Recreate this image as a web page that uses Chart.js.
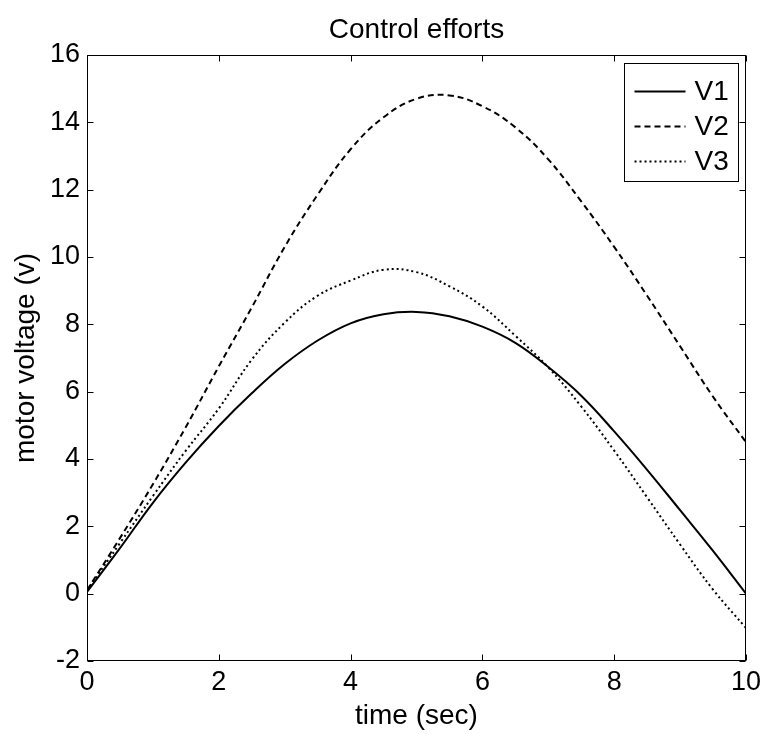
<!DOCTYPE html>
<html>
<head>
<meta charset="utf-8">
<script src="https://cdn.jsdelivr.net/npm/chart.js@4"></script>
<style>
    body { margin: 0; background: #fff; }
    #wrap { width: 766px; height: 734px; position: relative; }
</style>
</head>
<body>
<div id="wrap"><canvas id="effort"></canvas></div>
<script>
// sample times (sec) and motor voltages (v)
const timeValues = [0, 0.5, 1, 1.5, 2, 2.5, 3, 3.5, 4, 4.5, 5, 5.5, 6, 6.5, 7, 7.5, 8, 8.5, 9, 9.5, 10];
const v1Values = [0.05, 1.35, 2.7, 3.9, 4.98, 5.95, 6.82, 7.52, 8.03, 8.3, 8.37, 8.24, 7.93, 7.45, 6.73, 5.88, 4.82, 3.68, 2.48, 1.27, 0.0];
const v2Values = [0.1, 1.65, 3.25, 4.95, 6.75, 8.5, 10.3, 11.85, 13.2, 14.15, 14.7, 14.8, 14.48, 13.85, 12.9, 11.65, 10.3, 8.85, 7.35, 5.85, 4.5];
const v3Values = [0.1, 1.5, 2.9, 4.25, 5.5, 6.95, 8.05, 8.85, 9.3, 9.62, 9.55, 9.13, 8.53, 7.66, 6.72, 5.56, 4.25, 2.86, 1.46, 0.12, -1.02];
const seriesNames = ['V1', 'V2', 'V3'];

const FONT = '"Liberation Sans", Arial, sans-serif';

function toPoints(values) {
    const out = [];
    for (let i = 0; i < values.length; i++) {
        out.push({x: timeValues[i], y: values[i]});
    }
    return out;
}

function lineSet(label, values, dash) {
    return {
        label: label,
        data: toPoints(values),
        borderColor: '#000',
        borderWidth: 2,
        borderDash: dash,
        pointRadius: 0,
        fill: false,
        tension: 0.4
    };
}

// box round the axes with short ticks pointing inwards on every side
const frameTicks = {
    id: 'frameTicks',
    afterDatasetsDraw(chart) {
        const {ctx, chartArea: a, scales: {x, y}} = chart;
        const L = Math.round(a.left) + 0.5, R = Math.round(a.right) - 0.5;
        const T = Math.round(a.top) + 0.5, B = Math.round(a.bottom) - 0.5;
        const len = 6;
        ctx.save();
        ctx.strokeStyle = '#000';
        ctx.lineWidth = 1;
        ctx.setLineDash([]);
        ctx.strokeRect(L, T, R - L, B - T);
        ctx.beginPath();
        for (const t of x.ticks) {
            const px = Math.round(x.getPixelForValue(t.value)) + 0.5;
            ctx.moveTo(px, B); ctx.lineTo(px, B - len);
            ctx.moveTo(px, T); ctx.lineTo(px, T + len);
        }
        for (const t of y.ticks) {
            const py = Math.round(y.getPixelForValue(t.value)) + 0.5;
            ctx.moveTo(L, py); ctx.lineTo(L + len, py);
            ctx.moveTo(R, py); ctx.lineTo(R - len, py);
        }
        ctx.stroke();
        ctx.restore();
    }
};

// legend box in the upper right corner of the plot
const boxLegend = {
    id: 'boxLegend',
    afterDraw(chart) {
        const {ctx, chartArea: a} = chart;
        const w = 114, h = 118;
        const left = Math.round(a.right - 122) + 0.5;
        const top = Math.round(a.top + 8) + 0.5;
        ctx.save();
        ctx.fillStyle = '#fff';
        ctx.fillRect(left, top, w, h);
        ctx.strokeStyle = '#000';
        ctx.lineWidth = 1;
        ctx.strokeRect(left, top, w, h);
        ctx.font = '28px ' + FONT;
        ctx.textBaseline = 'middle';
        ctx.fillStyle = '#000';
        chart.data.datasets.forEach(function (ds, i) {
            const cy = top + 28 + i * 35;
            ctx.beginPath();
            ctx.lineWidth = ds.borderWidth;
            ctx.setLineDash(ds.borderDash || []);
            ctx.moveTo(left + 10, cy);
            ctx.lineTo(left + 61, cy);
            ctx.stroke();
            ctx.setLineDash([]);
            ctx.fillText(ds.label, left + 70, cy + 1);
        });
        ctx.restore();
    }
};

const effortChart = new Chart(document.getElementById('effort'), {
    type: 'line',
    data: {
        datasets: [
            lineSet(seriesNames[0], v1Values, []),
            lineSet(seriesNames[1], v2Values, [6, 4]),
            lineSet(seriesNames[2], v3Values, [2, 3])
        ]
    },
    plugins: [frameTicks, boxLegend],
    options: {
        responsive: true,
        maintainAspectRatio: false,
        animation: false,
        layout: {padding: {left: 0, right: 18, top: 0, bottom: 0}},
        plugins: {
            legend: {display: false},
            tooltip: {enabled: false},
            title: {
                display: true,
                fullSize: false,
                text: 'Control efforts',
                color: '#000',
                font: {family: FONT, size: 28, weight: 'normal'},
                padding: {top: 13, bottom: 8.4}
            }
        },
        scales: {
            x: {
                type: 'linear',
                min: 0,
                max: 10,
                grid: {display: false, drawTicks: false},
                border: {display: false},
                ticks: {stepSize: 2, color: '#000', padding: 5, maxRotation: 0,
                    font: {family: FONT, size: 27}},
                title: {display: true, text: 'time (sec)', color: '#000',
                    font: {family: FONT, size: 28}, padding: {top: 0, bottom: 1}},
                afterFit(scale) { scale.height = 73; }
            },
            y: {
                min: -2,
                max: 16,
                grid: {display: false, drawTicks: false},
                border: {display: false},
                ticks: {stepSize: 2, color: '#000', padding: 7,
                    font: {family: FONT, size: 27}},
                title: {display: true, text: 'motor voltage (v)', color: '#000',
                    font: {family: FONT, size: 28}, padding: {top: 9, bottom: 0}},
                afterFit(scale) { scale.width = 87; }
            }
        }
    }
});
</script>
</body>
</html>
